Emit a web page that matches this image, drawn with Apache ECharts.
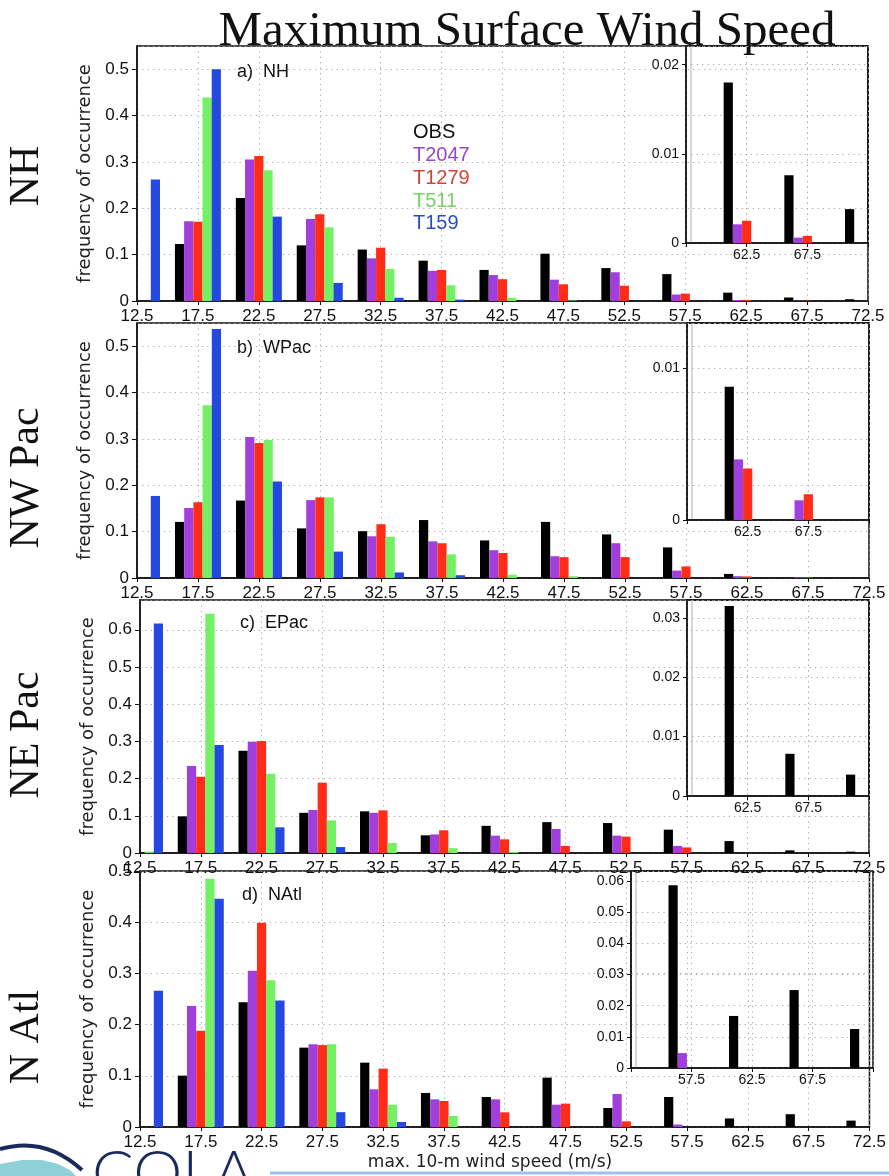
<!DOCTYPE html>
<html><head><meta charset="utf-8">
<script src="https://cdn.jsdelivr.net/npm/echarts@6/dist/echarts.min.js"></script>
<style>html,body{margin:0;padding:0;background:#fff}#c{width:889px;height:1176px}</style>
</head><body><div id="c"></div>
<script>
// ---- data ----
const windBins = ['12.5','17.5','22.5','27.5','32.5','37.5','42.5','47.5','52.5','57.5','62.5','67.5','72.5'];
const seriesNames = ['OBS','T2047','T1279','T511','T159'];
const regionNames = ['NH','NW Pac','NE Pac','N Atl'];
const panelLabels = ['a)  NH','b)  WPac','c)  EPac','d)  NAtl'];

const nhOBS   = [0, 0.123, 0.222, 0.120, 0.111, 0.087, 0.067, 0.102, 0.071, 0.058, 0.018, 0.0076, 0.0038];
const nhT2047 = [0, 0.172, 0.305, 0.177, 0.092, 0.065, 0.056, 0.046, 0.062, 0.014, 0.0021, 0.0006, 0];
const nhT1279 = [0, 0.171, 0.313, 0.187, 0.115, 0.067, 0.047, 0.036, 0.033, 0.016, 0.0025, 0.0008, 0];
const nhT511  = [0, 0.439, 0.282, 0.159, 0.069, 0.034, 0.007, 0.001, 0, 0, 0, 0, 0];
const nhT159  = [0.262, 0.500, 0.182, 0.039, 0.007, 0.003, 0, 0, 0, 0, 0, 0, 0];

const wpOBS   = [0, 0.121, 0.167, 0.107, 0.101, 0.125, 0.081, 0.121, 0.094, 0.066, 0.0088, 0, 0];
const wpT2047 = [0, 0.151, 0.304, 0.168, 0.090, 0.079, 0.060, 0.047, 0.075, 0.016, 0.0040, 0.0013, 0];
const wpT1279 = [0, 0.1635, 0.291, 0.174, 0.116, 0.075, 0.054, 0.045, 0.045, 0.025, 0.0034, 0.0017, 0];
const wpT511  = [0, 0.3725, 0.2975, 0.174, 0.089, 0.051, 0.007, 0.004, 0, 0, 0, 0, 0];
const wpT159  = [0.177, 0.537, 0.208, 0.057, 0.012, 0.006, 0, 0, 0, 0, 0, 0, 0];

const epOBS   = [0, 0.0985, 0.275, 0.108, 0.112, 0.0475, 0.073, 0.083, 0.0806, 0.0627, 0.032, 0.0071, 0.0036];
const epT2047 = [0, 0.234, 0.299, 0.1155, 0.108, 0.050, 0.0466, 0.0645, 0.0466, 0.019, 0, 0, 0];
const epT1279 = [0, 0.205, 0.301, 0.189, 0.1146, 0.061, 0.0367, 0.019, 0.044, 0.015, 0, 0, 0];
const epT511  = [0.004, 0.643, 0.213, 0.0877, 0.027, 0.013, 0.003, 0, 0, 0, 0, 0, 0];
const epT159  = [0.617, 0.290, 0.069, 0.016, 0, 0, 0, 0, 0, 0, 0, 0, 0];

const naOBS   = [0, 0.1003, 0.2436, 0.155, 0.1257, 0.0665, 0.0586, 0.0964, 0.0371, 0.0586, 0.0167, 0.025, 0.0125];
const naT2047 = [0, 0.2365, 0.305, 0.1616, 0.0736, 0.054, 0.054, 0.0436, 0.0645, 0.0048, 0, 0, 0];
const naT1279 = [0, 0.188, 0.399, 0.160, 0.114, 0.0508, 0.0287, 0.0456, 0.011, 0, 0, 0, 0];
const naT511  = [0, 0.485, 0.2866, 0.1616, 0.0436, 0.0215, 0, 0, 0, 0, 0, 0, 0];
const naT159  = [0.266, 0.4456, 0.247, 0.029, 0.0098, 0, 0, 0, 0, 0, 0, 0, 0];

const panelData = [
  [nhOBS, nhT2047, nhT1279, nhT511, nhT159],
  [wpOBS, wpT2047, wpT1279, wpT511, wpT159],
  [epOBS, epT2047, epT1279, epT511, epT159],
  [naOBS, naT2047, naT1279, naT511, naT159]
];
const mainYMax   = [0.55, 0.55, 0.68, 0.5];
const insetYMax  = [0.0221, 0.013, 0.033, 0.0632];
const insetStart = [9, 9, 9, 8];   // inset axis starts at this bin (57.5 or 52.5); its bars start one bin later

// ---- styles / layout ----
const barColors = ['#000000', '#a23fdc', '#ff2c18', '#74f064', '#2448e0'];
const legendColors = ['#111111', '#9446cc', '#d04434', '#74d466', '#2c4cc4'];
const mainLayout = [
  {left:137, top:46,  width:731, height:255},
  {left:137, top:323, width:732, height:255},
  {left:140, top:600, width:729, height:253},
  {left:140, top:871, width:733, height:256}
];
const insetLayout = [
  {left:686, top:46,  width:182, height:197},
  {left:687, top:323, width:182, height:197},
  {left:687, top:600, width:182, height:196},
  {left:631, top:871, width:242, height:197}
];
const regionY = [176, 478, 735, 1037];
const labelPos = [[237,72],[237,348],[240,623],[242,895]];

const SANS = 'Liberation Sans, Arial, sans-serif';
const SERIF = 'Liberation Serif, Times New Roman, serif';
const gridLine = {show:true, lineStyle:{color:'#a8a8a8', type:[1.2,4.2], width:1}};
const axisLineStyle = {color:'#111', width:1.5};
const fmt = v => String(Math.round(v*10000)/10000);

const grids = [], xAxes = [], yAxes = [], series = [], graphics = [];

for (let p = 0; p < 4; p++) {
  const m = mainLayout[p], ins = insetLayout[p];
  grids.push(Object.assign({show:true, borderColor:'#111', borderWidth:1.5, backgroundColor:'transparent'}, m));
  grids.push(Object.assign({show:true, borderColor:'#111', borderWidth:1.5, backgroundColor:'transparent'}, ins));

  xAxes.push({
    type:'category', gridIndex:2*p, data:windBins, boundaryGap:false,
    axisLine:{show:true, lineStyle:axisLineStyle},
    axisTick:{show:true, interval:0, length:4, lineStyle:{color:'#111'}},
    axisLabel:{interval:0, fontSize:17, fontFamily:SANS, color:'#111', margin:7},
    splitLine:Object.assign({interval:0}, gridLine)
  });
  const yMax = mainYMax[p];
  const isMult = Math.abs(yMax/0.1 - Math.round(yMax/0.1)) < 1e-6;
  yAxes.push({
    type:'value', gridIndex:2*p, min:0, max:yMax, interval:0.1,
    axisLine:{show:true, lineStyle:axisLineStyle},
    axisTick:{show:true, length:5, lineStyle:{color:'#111'}},
    axisLabel:{fontSize:17, fontFamily:SANS, color:'#111', margin:8, formatter:fmt, showMaxLabel:isMult},
    splitLine:gridLine,
    name:'frequency of occurrence', nameLocation:'middle', nameGap:39,
    nameTextStyle:{fontSize:18, fontFamily:'DejaVu Sans, sans-serif', color:'#222'}
  });

  const insBins = windBins.slice(insetStart[p]);
  xAxes.push({
    type:'category', gridIndex:2*p+1, data:insBins, boundaryGap:false,
    axisLine:{show:true, lineStyle:axisLineStyle},
    axisTick:{show:true, interval:0, length:4, lineStyle:{color:'#111'}},
    axisLabel:{interval:(i)=> i>0 && i<insBins.length-1, fontSize:14, fontFamily:SANS, color:'#111', margin:5},
    splitLine:Object.assign({interval:0}, gridLine)
  });
  yAxes.push({
    type:'value', gridIndex:2*p+1, min:0, max:insetYMax[p], interval:0.01,
    axisLine:{show:true, lineStyle:axisLineStyle},
    axisTick:{show:true, length:4, lineStyle:{color:'#111'}},
    axisLabel:{fontSize:14, fontFamily:SANS, color:'#111', margin:7, formatter:fmt, showMaxLabel:false},
    splitLine:gridLine
  });

  for (let s = 0; s < 5; s++) {
    const common = {type:'bar', name:seriesNames[s], barWidth:9.2, barGap:'0%', clip:true, silent:true,
      itemStyle:{color:barColors[s]}};
    series.push(Object.assign({xAxisIndex:2*p, yAxisIndex:2*p, data:panelData[p][s]}, common));
    // the inset shows bars only from the bin after its left edge
    const insData = panelData[p][s].slice(insetStart[p]).map((v, i) => i === 0 ? '-' : v);
    series.push(Object.assign({xAxisIndex:2*p+1, yAxisIndex:2*p+1, data:insData}, common));
  }

  graphics.push({type:'text', x:27, y:regionY[p], rotation:Math.PI/2,
    style:{text:regionNames[p], fontSize:42, fontFamily:SERIF, fill:'#111', align:'center', verticalAlign:'middle'}});
  graphics.push({type:'text', x:labelPos[p][0], y:labelPos[p][1],
    style:{text:panelLabels[p], fontSize:18, fontFamily:SANS, fill:'#111', align:'left', verticalAlign:'middle'}});
  graphics.push({type:'line', shape:{x1:ins.left+5, y1:ins.top, x2:ins.left+5, y2:ins.top+ins.height},
    style:{stroke:'#b0b0b0', lineWidth:1}});
}

const legendY = [132, 155, 178, 201, 223];
for (let s = 0; s < 5; s++) {
  graphics.push({type:'text', x:413, y:legendY[s],
    style:{text:seriesNames[s], fontSize:20, fontFamily:SANS, fill:legendColors[s], align:'left', verticalAlign:'middle'}});
}
graphics.push({type:'text', x:527, y:32,
  style:{text:'Maximum Surface Wind Speed', fontSize:49, fontFamily:SERIF, fill:'#111', align:'center', verticalAlign:'middle'}});
graphics.push({type:'text', x:490, y:1163,
  style:{text:'max. 10-m wind speed (m/s)', fontSize:17, fontFamily:'DejaVu Sans, sans-serif', fill:'#222', align:'center', verticalAlign:'middle'}});
graphics.push({type:'line', shape:{x1:270, y1:1173, x2:889, y2:1173}, style:{stroke:'#9ec0f0', lineWidth:3}});
// COLA logo (approximate)
graphics.push({type:'polygon', shape:{points:[[0,1164],[22,1160],[42,1160],[58,1164],[70,1170],[76,1176],[0,1176]]}, style:{fill:'#8fd0d8'}});
graphics.push({type:'bezierCurve', shape:{x1:0, y1:1149, cpx1:45, cpy1:1136, x2:82, y2:1170}, style:{stroke:'#1b2a5c', lineWidth:4, fill:null}});
graphics.push({type:'text', x:92, y:1143,
  style:{text:'COLA', fontSize:62, fontFamily:'Lato, Liberation Sans, sans-serif', fontWeight:300, fill:'#1b2a5c', align:'left', verticalAlign:'top'}});

const chart = echarts.init(document.getElementById('c'), null, {renderer:'canvas'});
chart.setOption({
  animation:false,
  backgroundColor:'#ffffff',
  grid:grids, xAxis:xAxes, yAxis:yAxes, series:series,
  graphic:graphics
});
</script></body></html>
